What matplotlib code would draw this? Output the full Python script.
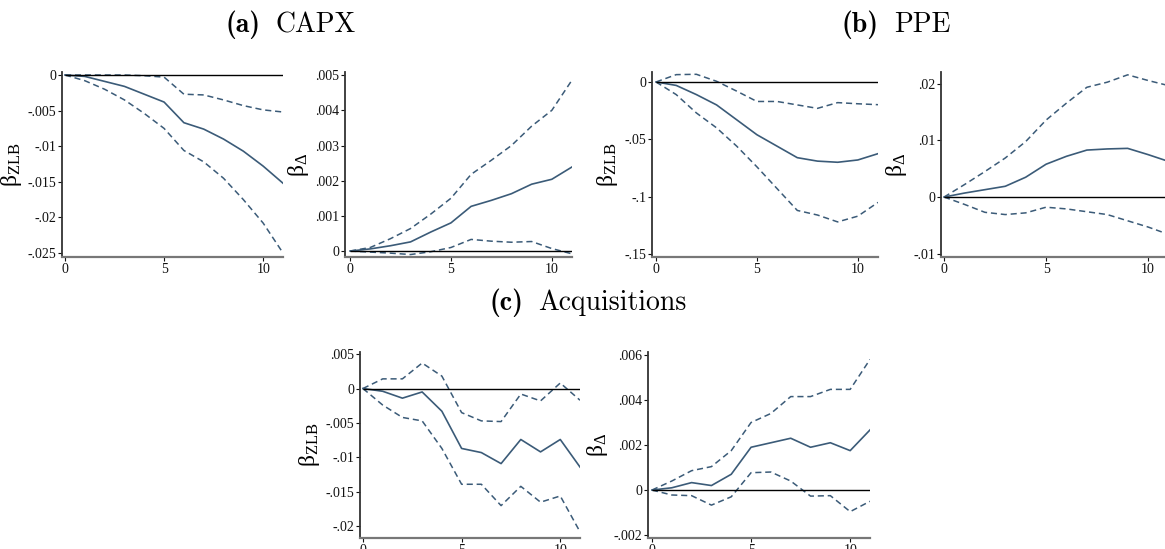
import numpy as np
import matplotlib
matplotlib.use("Agg")
import matplotlib.pyplot as plt
from matplotlib.ticker import FixedLocator, FuncFormatter

plt.rcParams["font.family"] = ["Liberation Serif", "DejaVu Serif"]
plt.rcParams["mathtext.fontset"] = "custom"
plt.rcParams["mathtext.rm"] = "Liberation Serif"
plt.rcParams["mathtext.it"] = "Liberation Serif:italic"

horizon = np.arange(12)

# CAPX
capx_zlb = [0, -0.0002, -0.0009, -0.0016, -0.0027, -0.0038, -0.0067, -0.0076, -0.009, -0.0107, -0.0128, -0.0152]
capx_zlb_hi = [0, 0, 0, 0, -0.0001, -0.0003, -0.0027, -0.0028, -0.0035, -0.0043, -0.0049, -0.0052]
capx_zlb_lo = [0, -0.0008, -0.002, -0.0035, -0.0054, -0.0075, -0.0106, -0.0122, -0.0145, -0.0175, -0.0208, -0.025]
capx_d = [0, 0.00006, 0.00015, 0.00026, 0.00054, 0.0008, 0.00127, 0.00144, 0.00163, 0.0019, 0.00204, 0.00239]
capx_d_hi = [0, 0.0001, 0.00035, 0.00064, 0.00105, 0.0015, 0.00218, 0.00258, 0.003, 0.00355, 0.004, 0.00486]
capx_d_lo = [0, -0.00003, -0.00006, -0.0001, -0.00002, 0.0001, 0.00033, 0.00028, 0.00025, 0.00027, 0.00007, -0.00008]

# PPE
ppe_zlb = [0, -0.003, -0.011, -0.02, -0.033, -0.046, -0.056, -0.066, -0.069, -0.07, -0.068, -0.0625]
ppe_zlb_hi = [0, 0.0064, 0.0067, 0.0006, -0.008, -0.017, -0.017, -0.02, -0.023, -0.018, -0.019, -0.0198]
ppe_zlb_lo = [0, -0.011, -0.027, -0.04, -0.056, -0.074, -0.093, -0.112, -0.116, -0.122, -0.117, -0.105]
ppe_d = [0, 0.0007, 0.0013, 0.0019, 0.0035, 0.0058, 0.0072, 0.0083, 0.0085, 0.0086, 0.0075, 0.0063]
ppe_d_hi = [0, 0.0022, 0.0045, 0.0069, 0.0098, 0.0136, 0.0166, 0.0194, 0.0203, 0.0216, 0.0206, 0.0197]
ppe_d_lo = [0, -0.0013, -0.0027, -0.0031, -0.0028, -0.0018, -0.0021, -0.0026, -0.0031, -0.0042, -0.0053, -0.0066]

# Acquisitions
acq_zlb = [0, -0.0004, -0.0014, -0.0005, -0.0033, -0.0087, -0.0093, -0.0109, -0.0074, -0.0092, -0.0074, -0.0114]
acq_zlb_hi = [0, 0.0014, 0.0014, 0.0037, 0.0018, -0.0035, -0.0047, -0.0048, -0.0008, -0.0018, 0.0008, -0.0017]
acq_zlb_lo = [0, -0.0024, -0.0042, -0.0047, -0.0087, -0.0139, -0.0139, -0.017, -0.0142, -0.0165, -0.0156, -0.0208]
acq_d = [0, 0.0001, 0.00033, 0.0002, 0.0007, 0.0019, 0.0021, 0.0023, 0.0019, 0.0021, 0.00175, 0.00267]
acq_d_hi = [0, 0.0004, 0.00086, 0.00104, 0.00175, 0.003, 0.0034, 0.00415, 0.00415, 0.00447, 0.00447, 0.0058]
acq_d_lo = [0, -0.00022, -0.00025, -0.00067, -0.0003, 0.00077, 0.0008, 0.0004, -0.00027, -0.00025, -0.00096, -0.0005]

capx_zlb_ticks = [0, -0.005, -0.01, -0.015, -0.02, -0.025]
capx_d_ticks = [0, 0.001, 0.002, 0.003, 0.004, 0.005]
ppe_zlb_ticks = [0, -0.05, -0.1, -0.15]
ppe_d_ticks = [-0.01, 0, 0.01, 0.02]
acq_zlb_ticks = [0.005, 0, -0.005, -0.01, -0.015, -0.02]
acq_d_ticks = [-0.002, 0, 0.002, 0.004, 0.006]
x_ticks = [0, 5, 10]

W, H = 1165, 549
LINE = "#3b5b78"
ZLB_LABEL = r"$\mathrm{\beta}_{\mathrm{ZLB}}$"
D_LABEL = r"$\mathrm{\beta}_{\Delta}$"


def stata_fmt(v, _pos=None):
    if abs(v) < 1e-12:
        return "0"
    s = f"{v:.3f}".rstrip("0")
    return s.replace("0.", ".")


def panel(px, ylim, xlim, mid, hi, lo, ticks, label):
    # px = (left, top, right, bottom) in pixels
    l, t, r, b = px
    ax = fig.add_axes([l / W, 1 - b / H, (r - l) / W, (b - t) / H])
    ax.plot(horizon, mid, color=LINE, lw=1.2)
    ax.plot(horizon, hi, color=LINE, lw=1.1, ls=(0, (4, 2.5)))
    ax.plot(horizon, lo, color=LINE, lw=1.1, ls=(0, (4, 2.5)))
    ax.hlines(0, 0, 11, color="black", lw=1.0)
    ax.set_xlim(*xlim)
    ax.set_ylim(*ylim)
    ax.yaxis.set_major_locator(FixedLocator(ticks))
    ax.yaxis.set_major_formatter(FuncFormatter(stata_fmt))
    ax.xaxis.set_major_locator(FixedLocator(x_ticks))
    for s in ("top", "right"):
        ax.spines[s].set_visible(False)
    ax.spines["left"].set_color("#333333")
    ax.spines["left"].set_linewidth(1.3)
    ax.spines["bottom"].set_color("#777777")
    ax.spines["bottom"].set_linewidth(1.6)
    ax.tick_params(labelsize=10, length=3, width=0.8, pad=1, colors="#111111")
    ax.set_ylabel(label, fontsize=17, labelpad=3)
    return ax


fig = plt.figure(figsize=(W / 100, H / 100), dpi=100)

panel((62, 72, 283, 257), (-0.02556, 0.00042), (-0.15, 11), capx_zlb, capx_zlb_hi, capx_zlb_lo,
      capx_zlb_ticks, ZLB_LABEL)
panel((345, 72, 572, 257), (-0.00017, 0.00509), (-0.25, 11), capx_d, capx_d_hi, capx_d_lo,
      capx_d_ticks, D_LABEL)
panel((652, 72, 878, 257), (-0.1526, 0.0087), (-0.2, 11), ppe_zlb, ppe_zlb_hi, ppe_zlb_lo,
      ppe_zlb_ticks, ZLB_LABEL)
panel((941, 72, 1165, 257), (-0.0106, 0.0221), (-0.15, 10.83), ppe_d, ppe_d_hi, ppe_d_lo,
      ppe_d_ticks, D_LABEL)
panel((360, 352, 580, 538), (-0.0217, 0.0053), (-0.15, 11), acq_zlb, acq_zlb_hi, acq_zlb_lo,
      acq_zlb_ticks, ZLB_LABEL)
panel((648, 352, 870, 538), (-0.00213, 0.00613), (-0.2, 11), acq_d, acq_d_hi, acq_d_lo,
      acq_d_ticks, D_LABEL)


def caption(cx, cy, tag, name, gap=15):
    # bold tag followed by a regular name, centred as one line
    t1 = fig.text(0, 0, tag, fontsize=20, fontfamily="cmb10", va="center")
    t2 = fig.text(0, 0, name, fontsize=20, fontfamily="cmr10", va="center")
    r = fig.canvas.get_renderer()
    w1 = t1.get_window_extent(r).width
    w2 = t2.get_window_extent(r).width
    x0 = cx - (w1 + gap + w2) / 2
    t1.set_position((x0 / W, 1 - cy / H))
    t2.set_position(((x0 + w1 + gap) / W, 1 - cy / H))


caption(291, 25, "(a)", "CAPX")
caption(896, 25, "(b)", "PPE")
caption(588, 303, "(c)", "Acquisitions")

fig.savefig("out.png", dpi=100)
